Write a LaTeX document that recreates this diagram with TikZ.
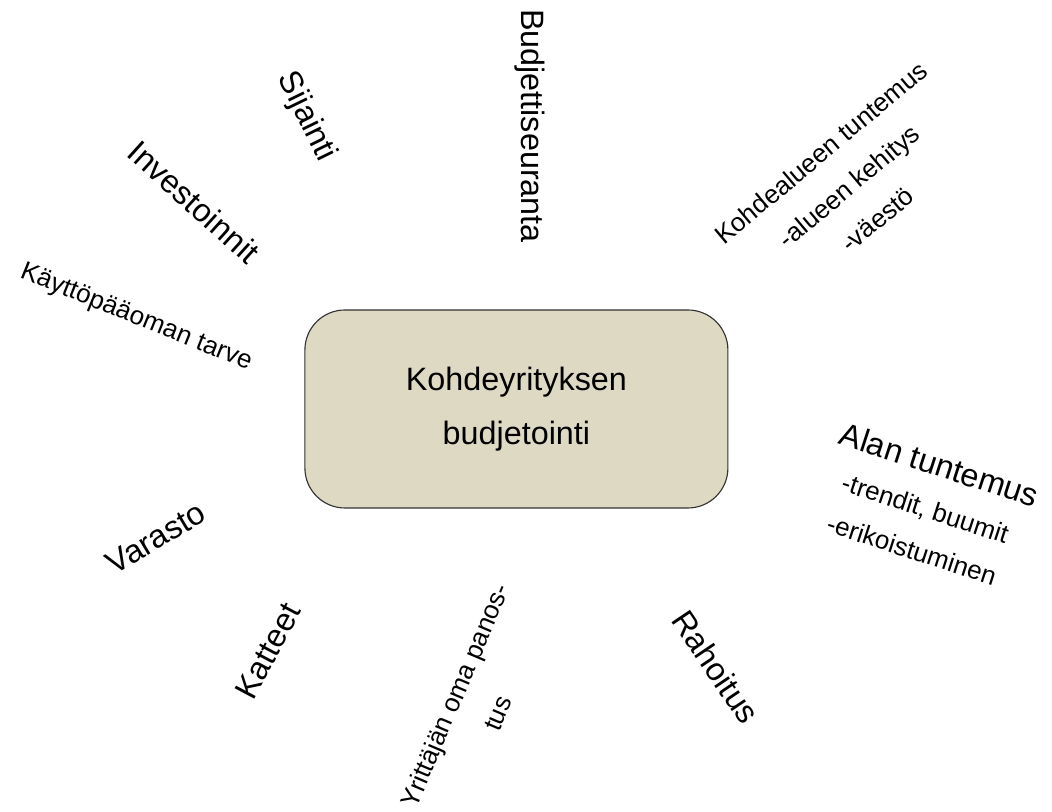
\documentclass[tikz,border=0pt]{standalone}
\usepackage{fontspec}
\setmainfont{Liberation Sans}
\definecolor{boxfill}{HTML}{DDD9C3}
\tikzset{
    mainbox/.style={draw=black!80, line width=0.8pt, fill=boxfill, rounded corners=1cm,
        minimum width=10.575cm, minimum height=4.95cm, align=center,
        font=\fontsize{23}{38}\selectfont},
    bigword/.style={inner sep=0pt, font=\fontsize{23}{26}\selectfont},
    smallword/.style={inner sep=0pt, align=center, font=\fontsize{18.5}{31}\selectfont}
}
\begin{document}
\begin{tikzpicture}
        \useasboundingbox (0, 0) rectangle (26.3, 20.3);

        % The box in the middle
        \node[mainbox] (budjetointi) at (12.91, 10.075) {Kohdeyrityksen\\budjetointi};

        % Words round the box
        \node[bigword, rotate=-64] (sijainti) at (7.65, 17.375) {Sijainti};
        \node[bigword, rotate=-42] (investoinnit) at (4.85, 15.25) {Investoinnit};
        \node[bigword, rotate=-90] (seuranta) at (13.25, 17.15) {Budjettiseuranta};
        \node[smallword, rotate=40] (kohdealue) at (21.225, 15.65)
            {Kohdealueen tuntemus\\-alueen kehitys\\-väestö};
        \node[smallword, rotate=-18] (ala) at (23.15, 7.65)
            {{\fontsize{23}{26}\selectfont Alan tuntemus}\\-trendit, buumit\\-erikoistuminen};
        \node[smallword, rotate=-22] (kayttopaaoma) at (3.4, 12.35) {Käyttöpääoman tarve};
        \node[bigword, rotate=31] (varasto) at (3.9, 6.85) {Varasto};
        \node[bigword, rotate=62] (katteet) at (6.7, 4.025) {Katteet};
        \node[smallword, rotate=67, font=\fontsize{18.5}{33}\selectfont] (panos) at (11.9, 2.7)
            {Yrittäjän oma panos-\\tus};
        \node[bigword, rotate=-56] (rahoitus) at (17.9, 3.625) {Rahoitus};
    \end{tikzpicture}
\end{document}
